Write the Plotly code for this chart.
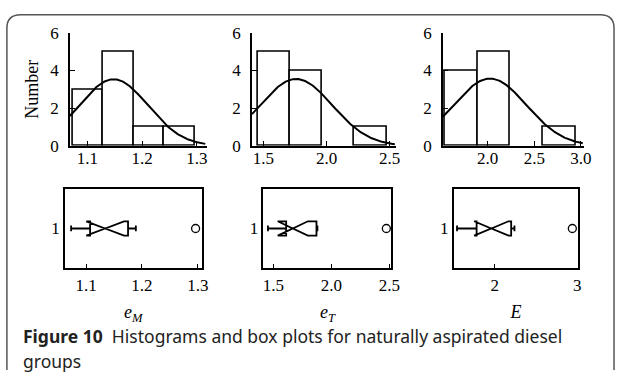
import numpy as np
import plotly.graph_objects as go

W, H = 624, 381

e_M = [1.073, 1.090, 1.107, 1.130, 1.132, 1.136, 1.150, 1.175, 1.189, 1.296]
e_T = [1.454, 1.550, 1.611, 1.615, 1.624, 1.712, 1.800, 1.872, 1.880, 2.474]
E = [1.545, 1.680, 1.782, 1.850, 1.930, 1.990, 2.100, 2.200, 2.240, 2.940]

groups = [e_M, e_T, E]
x_titles = ["<i>e<sub>M</sub></i>", "<i>e<sub>T</sub></i>", "<i>E</i>"]

hist_ticks = [[1.1, 1.2, 1.3], [1.5, 2.0, 2.5], [1.5, 2.0, 2.5, 3.0]]
box_ticks = [[1.1, 1.2, 1.3], [1.5, 2.0, 2.5], [2, 3]]
box_ticktext = [["1.1", "1.2", "1.3"], ["1.5", "2.0", "2.5"], ["2", "3"]]

# panel geometry in pixels
hist_px = [(70, 209), (255, 401.7), (449, 592.7)]
box_px = [(65, 204), (266.7, 396.7), (460, 586.7)]
hist_rng = [(1.068, 1.318), (1.409, 2.552), (1.52, 3.035)]
box_rng = [(1.062, 1.307), (1.415, 2.517), (1.504, 3.012)]
hist_y = (25, 144)
box_y = (189, 273)

SERIF = "Times New Roman, Liberation Serif, serif"
SANS = "Noto Sans"


def px_x(a, b):
    return [a / W, b / W]


def px_y(top, bottom):
    return [1 - bottom / H, 1 - top / H]


tick_font = dict(family=SERIF, size=17, color="black")

fig = go.Figure()
layout = {}
for i, data in enumerate(groups):
    hx = "x" if i == 0 else f"x{2 * i + 1}"
    hy = "y" if i == 0 else f"y{2 * i + 1}"
    bx = f"x{2 * i + 2}"
    by = f"y{2 * i + 2}"
    arr = np.array(data)
    size = (arr.max() - arr.min()) / 3.9999

    fig.add_trace(go.Histogram(
        x=data, xaxis=hx, yaxis=hy,
        xbins=dict(start=arr.min(), end=arr.min() + 4 * size, size=size),
        marker=dict(color="white", line=dict(color="black", width=1.6)),
        showlegend=False,
    ))

    # normal fit over the axis span
    mu, sd = arr.mean(), arr.std(ddof=1)
    xs = np.linspace(hist_rng[i][0], hist_rng[i][1] - 0.01 * (hist_rng[i][1] - hist_rng[i][0]), 200)
    ys = len(arr) * size * np.exp(-0.5 * ((xs - mu) / sd) ** 2) / (sd * np.sqrt(2 * np.pi))
    fig.add_trace(go.Scatter(
        x=xs, y=ys, xaxis=hx, yaxis=hy, mode="lines",
        line=dict(color="black", width=2), showlegend=False,
    ))

    fig.add_trace(go.Box(
        x=data, y0=1, orientation="h", xaxis=bx, yaxis=by,
        boxpoints="outliers", quartilemethod="exclusive",
        notched=True, notchwidth=0.5, whiskerwidth=0.4, width=0.18,
        fillcolor="rgba(0,0,0,0)", line=dict(color="black", width=1.8),
        marker=dict(symbol="circle-open", size=8, color="black", line=dict(width=1.3)),
        showlegend=False,
    ))

    axis_common = dict(
        showgrid=False, zeroline=False, showline=True, linecolor="black",
        linewidth=1.5, ticks="inside", ticklen=5, tickcolor="black",
    )
    layout["xaxis" if i == 0 else f"xaxis{2 * i + 1}"] = dict(
        axis_common, domain=px_x(*hist_px[i]), range=list(hist_rng[i]),
        tickvals=hist_ticks[i], tickformat=".1f", anchor=hy, tickfont=tick_font,
        ticklabelstandoff=-4,
    )
    layout["yaxis" if i == 0 else f"yaxis{2 * i + 1}"] = dict(
        axis_common, domain=px_y(*hist_y), range=[0, 6], tickvals=[0, 2, 4, 6],
        anchor=hx, ticklabelstandoff=6, tickfont=tick_font,
        title=dict(text="Number" if i == 0 else "", font=dict(family=SERIF, size=18), standoff=7),
    )
    layout[f"xaxis{2 * i + 2}"] = dict(
        axis_common, domain=px_x(*box_px[i]), range=list(box_rng[i]),
        tickvals=box_ticks[i], ticktext=box_ticktext[i], anchor=by, mirror=True,
        tickfont=tick_font,
        title=dict(text=x_titles[i], font=dict(family=SERIF, size=18), standoff=12),
    )
    layout[f"yaxis{2 * i + 2}"] = dict(
        axis_common, domain=px_y(*box_y), range=[0.5, 1.5], tickvals=[1],
        ticktext=["1"], anchor=bx, mirror=True, ticks="", tickfont=tick_font,
    )

# rounded frame around the figure
l, t, r, b, rad = 6 / W, 1 - 6 / H, 623 / W, 1 - 380 / H, 14
rx, ry = rad / W, rad / H
frame = (f"M {l},{b} L {l},{t - ry} Q {l},{t} {l + rx},{t} "
         f"L {r - rx},{t} Q {r},{t} {r},{t - ry} L {r},{b}")

fig.update_layout(
    **layout,
    width=W, height=H, margin=dict(l=0, r=0, t=0, b=0),
    font=dict(family=SERIF, size=17, color="black"),
    paper_bgcolor="white", plot_bgcolor="white", bargap=0,
    shapes=[dict(type="path", xref="paper", yref="paper", path=frame,
                 line=dict(color="#555555", width=1.5))],
    annotations=[
        dict(text="<b>Figure 10</b>  Histograms and box plots for naturally aspirated diesel",
             x=20 / W, y=1 - 344 / H, xref="paper", yref="paper", xanchor="left",
             yanchor="middle", showarrow=False,
             font=dict(family=SANS, size=17.5, color="#222222")),
        dict(text="groups", x=20 / W, y=1 - 370 / H, xref="paper", yref="paper",
             xanchor="left", yanchor="middle", showarrow=False,
             font=dict(family=SANS, size=17.5, color="#222222")),
    ],
)

# page body margin would shift the figure by 8px
fig.write_html("out.html", config={"displayModeBar": False},
               post_script="document.body.style.margin='0';")
